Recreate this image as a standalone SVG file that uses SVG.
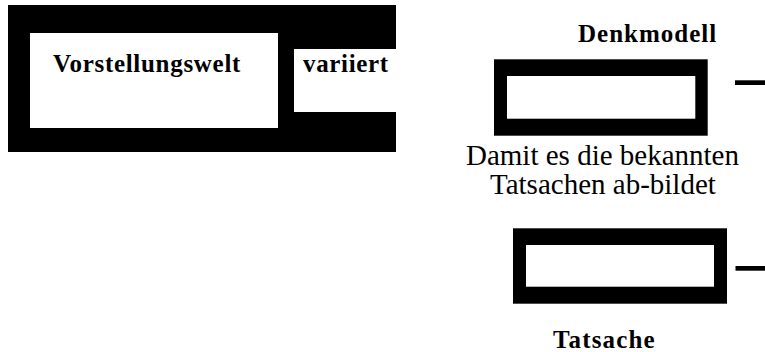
<svg xmlns="http://www.w3.org/2000/svg" width="765" height="352" viewBox="0 0 765 352">
  <rect width="765" height="352" fill="#fff"/>

  <!-- Vorstellungswelt frame with the "variiert" notch -->
  <g id="vorstellungswelt">
    <rect fill="#000" x="8" y="5" width="388" height="147"/>
    <rect fill="#fff" x="30" y="33" width="248" height="95"/>
    <rect fill="#fff" x="294" y="49" width="102" height="63"/>
    <text x="53" y="71.5" font-family="Liberation Serif, DejaVu Serif, serif" font-weight="bold" font-size="25" letter-spacing="0.7">Vorstellungswelt</text>
    <text x="303" y="71.5" font-family="Liberation Serif, DejaVu Serif, serif" font-weight="bold" font-size="25" letter-spacing="0.65">variiert</text>
  </g>

  <!-- Denkmodell box -->
  <g id="denkmodell">
    <text x="578" y="41.7" font-family="Liberation Serif, DejaVu Serif, serif" font-weight="bold" font-size="25" letter-spacing="1">Denkmodell</text>
    <rect fill="#000" x="494" y="59.3" width="213.7" height="76.4"/>
    <rect fill="#fff" x="507" y="76" width="188.3" height="42.7"/>
  </g>

  <!-- caption between the boxes -->
  <g id="abbildung">
    <text x="466" y="165" font-family="Liberation Serif, DejaVu Serif, serif" font-size="29">Damit es die bekannten</text>
    <text x="490" y="194" font-family="Liberation Serif, DejaVu Serif, serif" font-size="29">Tatsachen ab-bildet</text>
  </g>

  <!-- Tatsache box -->
  <g id="tatsache">
    <rect fill="#000" x="513" y="228.3" width="214" height="75.4"/>
    <rect fill="#fff" x="526" y="245" width="188" height="41.7"/>
    <text x="553" y="348" font-family="Liberation Serif, DejaVu Serif, serif" font-weight="bold" font-size="25" letter-spacing="1.15">Tatsache</text>
  </g>

  <!-- connector stubs leaving the boxes -->
  <g id="connectors">
    <rect fill="#000" x="735" y="80.3" width="30" height="4.7"/>
    <rect fill="#000" x="735.5" y="266" width="29.5" height="4.7"/>
  </g>
</svg>
